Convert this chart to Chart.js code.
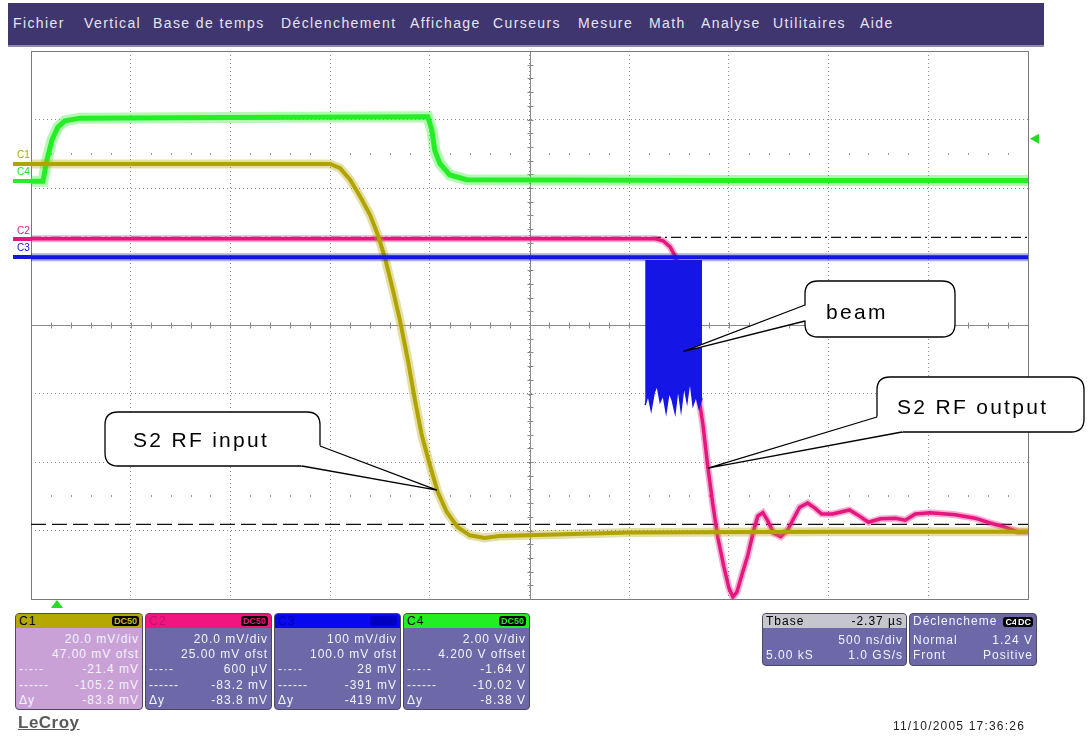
<!DOCTYPE html>
<html>
<head>
<meta charset="utf-8">
<title>LeCroy – S2 RF</title>
<script src="https://cdn.jsdelivr.net/npm/chart.js@4.4.1/dist/chart.umd.min.js"></script>
<style>
  body { margin: 0; background: #fff; }
  #page { position: relative; width: 1090px; height: 739px; overflow: hidden;
          font-family: "Liberation Sans", Arial, sans-serif; }
  #menu { position: absolute; left: 8px; top: 3px; width: 1036px; height: 42px;
          background: #3f366f; border-bottom: 2px solid #8f8ab4; }
  #menu span { position: absolute; top: 12px; color: #e4e4f2; font-size: 14px; letter-spacing: 1.4px; white-space: nowrap; }
  canvas { position: absolute; left: 0; top: 0; }
  .lbl { position: absolute; font-size: 10px; line-height: 10px; }
  .box { position: absolute; box-sizing: border-box; border: 1px solid #4b4960; border-radius: 4px;
         background: #6d68a8; color: #f3f3ff; font-size: 12px; letter-spacing: 1px; overflow: hidden; }
  .box.sel { background: #c9a1d7; }
  .hd { position: absolute; left: 0; right: 0; top: 0; height: 14px; line-height: 14px; padding-left: 3px; }
  .row { position: absolute; left: 3px; right: 3px; height: 15px; line-height: 15px; white-space: nowrap; }
  .row .r { position: absolute; right: 0; }
  .row .l { position: absolute; left: 0; }
  .badge { position: absolute; right: 3px; top: 2px; height: 10px; line-height: 10px; padding: 0 2px;
           background: #000; border-radius: 3px; font-size: 9px; font-weight: bold; letter-spacing: 0; }
  .call { position: absolute; font-size: 21px; line-height: 24px; letter-spacing: 2.3px; color: #000; white-space: nowrap; }
</style>
</head>
<body>
<div id="page">
  <div id="menu">
    <span style="left:5px">Fichier</span>
    <span style="left:76px">Vertical</span>
    <span style="left:145px">Base de temps</span>
    <span style="left:273px">Déclenchement</span>
    <span style="left:402px">Affichage</span>
    <span style="left:485px">Curseurs</span>
    <span style="left:570px">Mesure</span>
    <span style="left:641px">Math</span>
    <span style="left:693px">Analyse</span>
    <span style="left:765px">Utilitaires</span>
    <span style="left:852px">Aide</span>
  </div>

  <canvas id="scope" width="1090" height="739"></canvas>

  <!-- channel tags beside the ground markers -->
  <div class="lbl" style="left:17px;top:150px;color:#b0a500">C1</div>
  <div class="lbl" style="left:17px;top:167px;color:#22dd22">C4</div>
  <div class="lbl" style="left:17px;top:226px;color:#e0187e">C2</div>
  <div class="lbl" style="left:17px;top:243px;color:#1414e0">C3</div>

  <!-- annotations -->
  <div class="call" style="left:826px;top:300px">beam</div>
  <div class="call" style="left:897px;top:395px">S2 RF output</div>
  <div class="call" style="left:133px;top:428px">S2 RF input</div>

  <!-- channel descriptors -->
  <div class="box sel" style="left:15px;top:613px;width:128px;height:97px">
    <div class="hd" style="background:#b5a800;color:#000">C1<span class="badge" style="color:#c9bd00">DC50</span></div>
    <div class="row" style="top:18px"><span class="r">20.0 mV/div</span></div>
    <div class="row" style="top:33px"><span class="r">47.00 mV ofst</span></div>
    <div class="row" style="top:48px"><span class="l">-·-·-</span><span class="r">-21.4 mV</span></div>
    <div class="row" style="top:64px"><span class="l">------</span><span class="r">-105.2 mV</span></div>
    <div class="row" style="top:79px"><span class="l">Δy</span><span class="r">-83.8 mV</span></div>
  </div>
  <div class="box" style="left:145px;top:613px;width:127px;height:97px">
    <div class="hd" style="background:#f0157f;color:#c8106a">C2<span class="badge" style="color:#f0157f">DC50</span></div>
    <div class="row" style="top:18px"><span class="r">20.0 mV/div</span></div>
    <div class="row" style="top:33px"><span class="r">25.00 mV ofst</span></div>
    <div class="row" style="top:48px"><span class="l">-·-·-</span><span class="r">600 µV</span></div>
    <div class="row" style="top:64px"><span class="l">------</span><span class="r">-83.2 mV</span></div>
    <div class="row" style="top:79px"><span class="l">Δy</span><span class="r">-83.8 mV</span></div>
  </div>
  <div class="box" style="left:274px;top:613px;width:127px;height:97px">
    <div class="hd" style="background:#0808ee;color:#0000b4">C3<span class="badge" style="color:#0000b4;background:#0000c8">DC50</span></div>
    <div class="row" style="top:18px"><span class="r">100 mV/div</span></div>
    <div class="row" style="top:33px"><span class="r">100.0 mV ofst</span></div>
    <div class="row" style="top:48px"><span class="l">-·-·-</span><span class="r">28 mV</span></div>
    <div class="row" style="top:64px"><span class="l">------</span><span class="r">-391 mV</span></div>
    <div class="row" style="top:79px"><span class="l">Δy</span><span class="r">-419 mV</span></div>
  </div>
  <div class="box" style="left:403px;top:613px;width:127px;height:97px">
    <div class="hd" style="background:#22ee22;color:#000">C4<span class="badge" style="color:#22ee22">DC50</span></div>
    <div class="row" style="top:18px"><span class="r">2.00 V/div</span></div>
    <div class="row" style="top:33px"><span class="r">4.200 V offset</span></div>
    <div class="row" style="top:48px"><span class="l">-·-·-</span><span class="r">-1.64 V</span></div>
    <div class="row" style="top:64px"><span class="l">------</span><span class="r">-10.02 V</span></div>
    <div class="row" style="top:79px"><span class="l">Δy</span><span class="r">-8.38 V</span></div>
  </div>

  <!-- timebase and trigger descriptors -->
  <div class="box" style="left:762px;top:613px;width:145px;height:53px">
    <div class="hd" style="background:#c6c6ce;color:#000;padding-left:0"><span class="row" style="top:0;height:14px;line-height:14px"><span class="l">Tbase</span><span class="r">-2.37 µs</span></span></div>
    <div class="row" style="top:19px"><span class="r">500 ns/div</span></div>
    <div class="row" style="top:34px"><span class="l">5.00 kS</span><span class="r">1.0 GS/s</span></div>
  </div>
  <div class="box" style="left:909px;top:613px;width:128px;height:53px">
    <div class="row" style="top:0;height:15px;line-height:15px">Déclencheme<span class="badge" style="right:14px;top:3px;color:#fff">C4</span><span class="badge" style="right:0;top:3px;color:#fff">DC</span></div>
    <div class="row" style="top:19px"><span class="l">Normal</span><span class="r">1.24 V</span></div>
    <div class="row" style="top:34px"><span class="l">Front</span><span class="r">Positive</span></div>
  </div>

  <div style="position:absolute;left:18px;top:713px;font-size:17px;font-weight:bold;color:#5a5a5a;text-decoration:underline;letter-spacing:0.5px">LeCroy</div>
  <div style="position:absolute;left:893px;top:719px;font-size:12px;color:#222;letter-spacing:1.2px">11/10/2005 17:36:26</div>
</div>

<script>
// ---- acquisition settings (per channel volts/div and offset, time per division) ----
const TIME_PER_DIV = 0.5;          // µs (500 ns/div)
const DIVS_X = 10, DIVS_Y = 8;
const C1_MV_DIV = 20,  C1_OFFSET = 47;    // mV
const C2_MV_DIV = 20,  C2_OFFSET = 25;    // mV
const C3_MV_DIV = 100, C3_OFFSET = 100;   // mV
const C4_V_DIV  = 2,   C4_OFFSET = 4.2;   // V
const TRIGGER_LEVEL = 1.24;               // V on C4
const TRIGGER_TIME  = 0.13;               // µs from left edge of the screen

// ---- C4: trigger / gate pulse (V) ----
const c4Time  = [0, 0.06, 0.08, 0.105, 0.135, 0.17, 0.245, 1.00, 1.99, 2.01, 2.025, 2.05, 2.10, 2.185, 3.5, 5.0];
const c4Volts = [0.00, 0.00, 0.62, 1.20, 1.58, 1.76, 1.84, 1.86, 1.88, 1.50, 0.90, 0.52, 0.18, 0.04, 0.02, 0.02];

// ---- C1: S2 RF input (mV) ----
const c1Time = [0, 1.5, 1.55, 1.60, 1.65, 1.70, 1.74, 1.775, 1.815, 1.85, 1.89, 1.925, 1.96, 2.00, 2.04, 2.085, 2.14, 2.20, 2.275, 2.35, 3.0, 4.0, 5.0];
const c1mV   = [0, 0, -1.2, -4.6, -9.4, -14.8, -20.8, -27.4, -36.8, -45.6, -57.2, -68.8, -79.2, -87.8, -95.8, -101.6, -106.0, -108.4, -109.2, -108.6, -107.6, -107.4, -107.4];

// ---- C2: S2 RF output (mV) ----
const c2Time = [0, 3.13, 3.17, 3.205, 3.23, 3.255, 3.28, 3.315, 3.345, 3.37, 3.395, 3.42, 3.445, 3.475, 3.50, 3.52,
                3.54, 3.565, 3.595, 3.625, 3.645, 3.67, 3.695, 3.725, 3.76, 3.795, 3.82, 3.855, 3.895, 3.93, 3.965,
                4.02, 4.105, 4.155, 4.20, 4.26, 4.335, 4.385, 4.435, 4.51, 4.635, 4.735, 4.81, 4.885, 4.95, 5.0];
const c2mV   = [0.2, 0.2, -0.4, -2.2, -4.8, -10.4, -19.2, -32.2, -44.6, -54.2, -66.8, -77.6, -87.2, -95.6, -101.8, -104.4,
                -103.0, -98.0, -92.2, -84.8, -80.8, -79.8, -82.2, -85.8, -86.8, -84.8, -82.0, -78.2, -77.0, -78.4, -80.2,
                -80.2, -79.0, -80.8, -82.6, -81.6, -81.4, -82.0, -80.2, -79.8, -80.4, -81.4, -82.8, -84.0, -85.4, -85.4];

// ---- C3: beam signal (mV) – baseline and lower edge of the beam burst ----
const c3Time = [0, 5.0];
const c3mV   = [-1, -1];
const c3BurstTime = [3.08, 3.095, 3.11, 3.125, 3.14, 3.155, 3.17, 3.185, 3.20, 3.215,
                     3.23, 3.245, 3.26, 3.275, 3.29, 3.305, 3.32, 3.335, 3.35, 3.365];
const c3BurstLow  = [-217, -202, -224, -199, -188, -212, -202, -227, -198, -209,
                     -228, -191, -224, -188, -212, -180, -217, -204, -221, -207];
const c3BurstTop  = -5;

// ---- horizontal cursors (read on C2, mV) ----
const c2Cursors = [0.6, -83.2];

const zip = (t, v) => t.map((x, i) => ({ x, y: v[i] }));
const axisRange = (perDiv, offset) => ({ min: -offset - perDiv * DIVS_Y / 2, max: -offset + perDiv * DIVS_Y / 2 });

const COL = {
  c1: '#b1a400', c1b: 'rgba(177,164,0,0.35)',
  c2: '#e5177e', c2b: 'rgba(229,23,126,0.35)',
  c3: '#1515e6', c3b: 'rgba(21,21,230,0.35)',
  c4: '#25ee25', c4b: 'rgba(37,238,37,0.35)',
  grid: '#8c8c8c'
};

function trace(data, axis, color, width) {
  return { data, yAxisID: axis, borderColor: color, borderWidth: width, pointRadius: 0, tension: 0, fill: false };
}

const datasets = [
  // first entries are painted last (on top)
  { data: zip(c3BurstTime, c3BurstLow), yAxisID: 'y3', borderColor: COL.c3, borderWidth: 1.5,
    backgroundColor: COL.c3, fill: { value: c3BurstTop }, pointRadius: 0, tension: 0 },
  trace(zip(c3Time, c3mV), 'y3', COL.c3, 4),
  trace(zip(c3Time, c3mV), 'y3', COL.c3b, 8),
  trace(zip(c1Time, c1mV), 'y1', COL.c1, 4),
  trace(zip(c1Time, c1mV), 'y1', COL.c1b, 9),
  trace(zip(c2Time, c2mV), 'y2', COL.c2, 3.5),
  trace(zip(c2Time, c2mV), 'y2', COL.c2b, 7),
  trace(zip(c4Time, c4Volts), 'y4', COL.c4, 5),
  trace(zip(c4Time, c4Volts), 'y4', COL.c4b, 11),
  { data: zip([0, DIVS_X * TIME_PER_DIV], [c2Cursors[0], c2Cursors[0]]), yAxisID: 'y2', borderColor: '#111',
    borderWidth: 1.2, borderDash: [10, 4, 2, 4], pointRadius: 0, fill: false },
  { data: zip([0, DIVS_X * TIME_PER_DIV], [c2Cursors[1], c2Cursors[1]]), yAxisID: 'y2', borderColor: '#111',
    borderWidth: 1.2, borderDash: [15, 6], pointRadius: 0, fill: false }
];

const callouts = [
  { tip: { x: 3.27,  y: -139,  axis: 'y3' }, box: [805, 281, 955, 337],  base: [[805, 305], [805, 321]] },
  { tip: { x: 3.395, y: -66.8, axis: 'y2' }, box: [877, 377, 1084, 432], base: [[877, 417], [902, 432]] },
  { tip: { x: 2.036, y: -95.2, axis: 'y1' }, box: [105, 412, 320, 466],  base: [[320, 446], [302, 466]] }
];

function roundRect(ctx, l, t, r, b, rad) {
  ctx.beginPath();
  ctx.moveTo(l + rad, t); ctx.lineTo(r - rad, t); ctx.quadraticCurveTo(r, t, r, t + rad);
  ctx.lineTo(r, b - rad); ctx.quadraticCurveTo(r, b, r - rad, b);
  ctx.lineTo(l + rad, b); ctx.quadraticCurveTo(l, b, l, b - rad);
  ctx.lineTo(l, t + rad); ctx.quadraticCurveTo(l, t, l + rad, t);
  ctx.closePath();
}

const scopeScreen = {
  id: 'scopeScreen',
  beforeDatasetsDraw(chart) {
    const { ctx, chartArea: a, scales } = chart;
    const x = scales.x, g = scales.yGrid;
    ctx.save();
    // sub-division dots half way between the outer grid lines
    ctx.fillStyle = '#9a9a9a';
    for (const lv of [2.5, -2.5]) {
      const py = Math.round(g.getPixelForValue(lv));
      for (let i = 1; i < DIVS_X * 5; i++) {
        if (i % 5 === 0) continue;
        const px = Math.round(x.getPixelForValue(i * TIME_PER_DIV / 5));
        ctx.fillRect(px, py - 1, 1, 2);
      }
    }
    // centre cross with minor ticks
    ctx.strokeStyle = '#8a8a8a';
    ctx.lineWidth = 1;
    const cx = Math.round(x.getPixelForValue(DIVS_X * TIME_PER_DIV / 2)) + 0.5;
    const cy = Math.round(g.getPixelForValue(0)) + 0.5;
    ctx.beginPath();
    ctx.moveTo(a.left, cy); ctx.lineTo(a.right, cy);
    ctx.moveTo(cx, a.top); ctx.lineTo(cx, a.bottom);
    for (let i = 1; i < DIVS_X * 5; i++) {
      const px = Math.round(x.getPixelForValue(i * TIME_PER_DIV / 5)) + 0.5;
      ctx.moveTo(px, cy - 3); ctx.lineTo(px, cy + 3);
    }
    for (let i = 1; i < DIVS_Y * 5; i++) {
      const py = Math.round(g.getPixelForValue(-DIVS_Y / 2 + i / 5)) + 0.5;
      ctx.moveTo(cx - 3, py); ctx.lineTo(cx + 3, py);
    }
    ctx.stroke();
    // screen frame
    ctx.strokeStyle = '#7a7a7a';
    ctx.strokeRect(Math.round(a.left) + 0.5, Math.round(a.top) + 0.5, Math.round(a.width), Math.round(a.height));
    ctx.restore();
  },
  afterDraw(chart) {
    const { ctx, chartArea: a, scales } = chart;
    ctx.save();
    // channel ground markers
    [['y1', COL.c1], ['y4', COL.c4], ['y2', COL.c2], ['y3', COL.c3]].forEach(([id, c]) => {
      const py = scales[id].getPixelForValue(0);
      ctx.fillStyle = c;
      ctx.fillRect(13, Math.round(py) - 2, a.left - 13, 4);
    });
    // trigger position (bottom) and trigger level (right)
    ctx.fillStyle = '#22dd22';
    const tx = scales.x.getPixelForValue(TRIGGER_TIME);
    ctx.beginPath(); ctx.moveTo(tx, a.bottom + 1); ctx.lineTo(tx + 6, a.bottom + 9); ctx.lineTo(tx - 6, a.bottom + 9); ctx.closePath(); ctx.fill();
    const ty = scales.y4.getPixelForValue(TRIGGER_LEVEL);
    ctx.beginPath(); ctx.moveTo(a.right + 2, ty); ctx.lineTo(a.right + 11, ty - 5); ctx.lineTo(a.right + 11, ty + 5); ctx.closePath(); ctx.fill();
    // annotation balloons
    for (const c of callouts) {
      const px = scales.x.getPixelForValue(c.tip.x), py = scales[c.tip.axis].getPixelForValue(c.tip.y);
      const [l, t, r, b] = c.box;
      roundRect(ctx, l, t, r, b, 13);
      ctx.fillStyle = '#fff'; ctx.fill();
      ctx.strokeStyle = '#000'; ctx.lineWidth = 1.3; ctx.stroke();
      const [b1, b2] = c.base;
      const mx = (l + r) / 2, my = (t + b) / 2;
      const inward = p => [p[0] + Math.sign(mx - p[0]) * 3, p[1] + Math.sign(my - p[1]) * 3];
      const i1 = inward(b1), i2 = inward(b2);
      ctx.beginPath(); ctx.moveTo(px, py); ctx.lineTo(b1[0], b1[1]); ctx.lineTo(i1[0], i1[1]);
      ctx.lineTo(i2[0], i2[1]); ctx.lineTo(b2[0], b2[1]); ctx.closePath();
      ctx.fill();
      ctx.beginPath(); ctx.moveTo(b1[0], b1[1]); ctx.lineTo(px, py); ctx.lineTo(b2[0], b2[1]); ctx.stroke();
    }
    ctx.restore();
  }
};

const hidden = r => Object.assign({ type: 'linear', display: false }, r);

new Chart(document.getElementById('scope'), {
  type: 'line',
  data: { datasets },
  options: {
    responsive: false, animation: false, devicePixelRatio: 1,
    layout: { padding: { left: 31, top: 51, right: 62, bottom: 140 } },
    plugins: { legend: { display: false }, tooltip: { enabled: false } },
    scales: {
      x: { type: 'linear', min: 0, max: DIVS_X * TIME_PER_DIV,
           ticks: { display: false, stepSize: TIME_PER_DIV },
           grid: { color: COL.grid, drawTicks: false, lineWidth: 1 },
           border: { display: false, dash: [1, 3] } },
      yGrid: { type: 'linear', position: 'left', min: -DIVS_Y / 2, max: DIVS_Y / 2,
           ticks: { display: false, stepSize: 1 },
           grid: { color: COL.grid, drawTicks: false, lineWidth: 1 },
           border: { display: false, dash: [1, 3] } },
      y1: hidden(axisRange(C1_MV_DIV, C1_OFFSET)),
      y2: hidden(axisRange(C2_MV_DIV, C2_OFFSET)),
      y3: hidden(axisRange(C3_MV_DIV, C3_OFFSET)),
      y4: hidden(axisRange(C4_V_DIV, C4_OFFSET))
    }
  },
  plugins: [scopeScreen]
});
</script>
</body>
</html>
